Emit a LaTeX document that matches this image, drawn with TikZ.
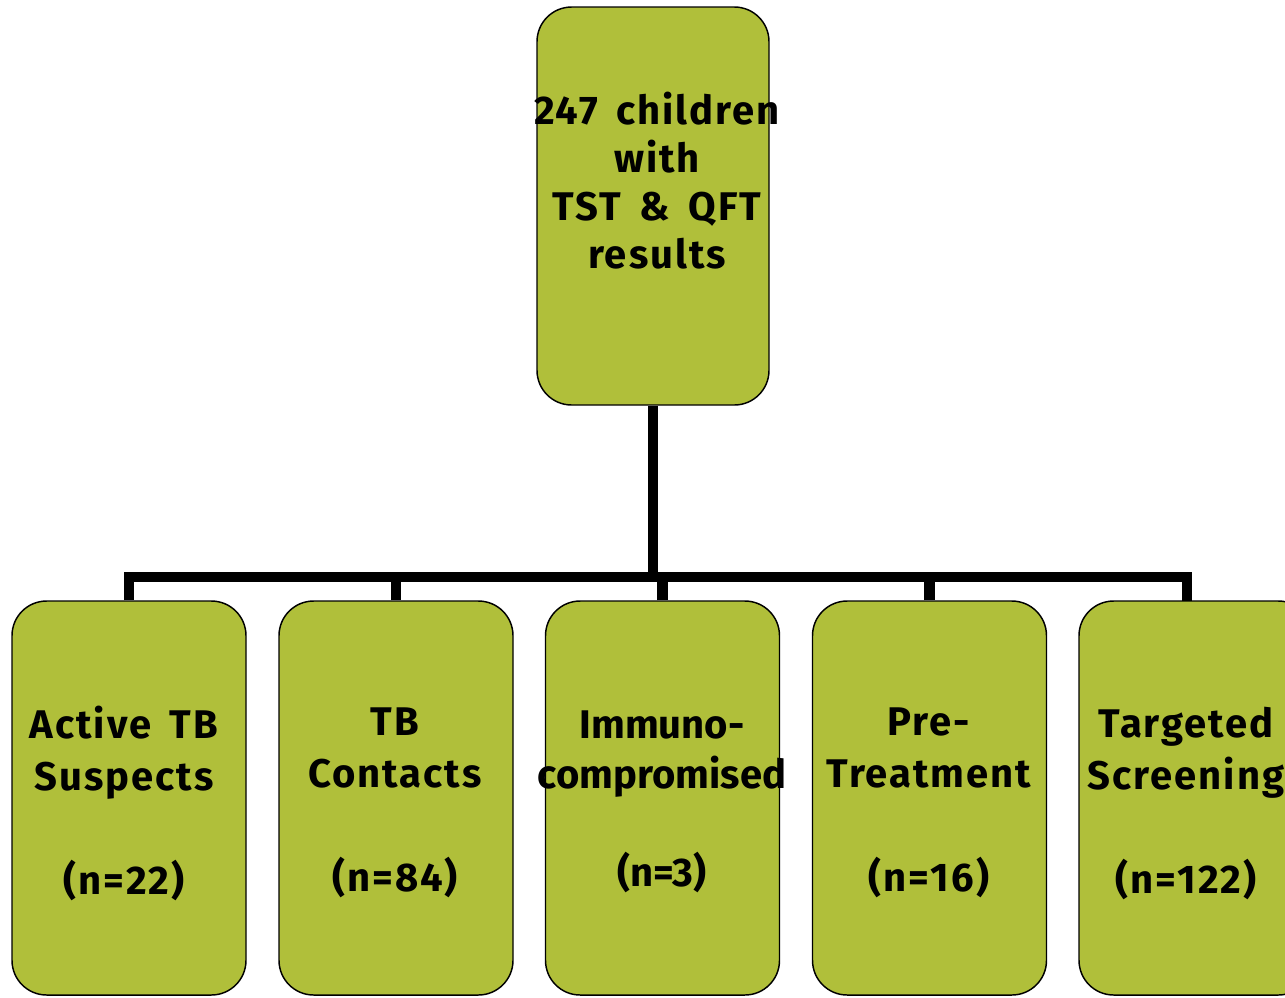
\documentclass[tikz,border=0pt]{standalone}
\usepackage{fontspec}
\setmainfont{Fira Sans}[LetterSpace=5,WordSpace=1.6]
\definecolor{boxgreen}{RGB}{176,191,58}
\begin{document}
\begin{tikzpicture}[x=0.75pt,y=-0.75pt,
  box/.style={draw=black, line width=1.1pt, fill=boxgreen, rounded corners=26pt, inner sep=0pt, minimum width=175.5pt, minimum height=295.5pt},
  lbl/.style={font=\fontsize{30}{39}\selectfont\bfseries, align=center, inner sep=0pt},
  conn/.style={line width=8.2pt, line join=miter}]
\useasboundingbox (0,0) rectangle (1285,997);
\clip (0,0) rectangle (1285,997);
% top box
\node[box, minimum width=174pt, minimum height=298.5pt] (top) at (653,206) {};
\node[lbl, font=\fontsize{30}{36}\selectfont\bfseries] (toplbl) at (657,181) {247 children\\with\\TST \& QFT\\results};
% bottom boxes
\node[box] (b1) at (129,798) {};
\node[box] (b2) at (396,798) {};
\node[box] (b3) at (662.5,798) {};
\node[box] (b4) at (929.5,798) {};
\node[box] (b5) at (1196,798) {};
% connectors
\coordinate (j) at (653,577);
\coordinate (d5) at (1187,601);
\draw[conn] (top.south) -- (j);
\draw[conn] (b1.north) |- (d5 |- j) -- (d5);
\draw[conn] (b2.north) -- (b2.north |- j);
\draw[conn] (b3.north) -- (b3.north |- j);
\draw[conn] (b4.north) -- (b4.north |- j);
% labels
\node[lbl] (l1) at (124,803) {Active TB\\Suspects\\~\\(n=22)};
\node[lbl] (l2) at (395,803) {TB\\Contacts\\~\\(n=84)};
\node[lbl, font=\fontsize{30}{37}\selectfont\bfseries\addfontfeatures{LetterSpace=0}] (l3) at (662,802) {Immuno-\\compromised\\~\\(n=3)};
\node[lbl] (l4) at (929,803) {Pre-\\Treatment\\~\\(n=16)};
\node[lbl] (l5) at (1186,803) {Targeted\\Screening\\~\\(n=122)};
\end{tikzpicture}
\end{document}
